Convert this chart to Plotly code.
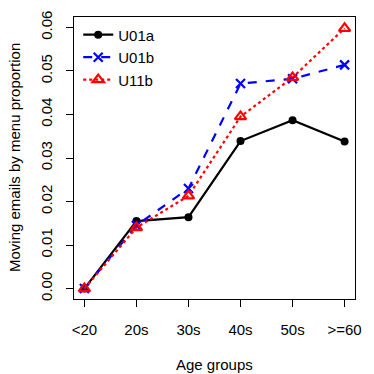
import plotly.graph_objects as go

categories = ["<20", "20s", "30s", "40s", "50s", ">=60"]
u01a = [0.0, 0.0155, 0.0164, 0.0339, 0.0387, 0.0338]
u01b = [0.0, 0.0145, 0.0230, 0.0471, 0.0482, 0.0514]
u11b = [0.0, 0.0140, 0.0213, 0.0395, 0.0485, 0.0598]
y_ticks = [0.0, 0.01, 0.02, 0.03, 0.04, 0.05, 0.06]

xpos = list(range(1, len(categories) + 1))
FONT = "Liberation Sans, Arial, Helvetica, sans-serif"

fig = go.Figure()
fig.add_trace(go.Scatter(x=xpos, y=u01a, name="U01a", mode="lines+markers",
                         line=dict(color="black", width=2.2),
                         marker=dict(symbol="circle", size=8, color="black")))
fig.add_trace(go.Scatter(x=xpos, y=u01b, name="U01b", mode="lines+markers",
                         line=dict(color="blue", width=2.2, dash="dash"),
                         marker=dict(symbol="x-thin-open", size=9, color="blue",
                                     line=dict(color="blue", width=2.2))))
fig.add_trace(go.Scatter(x=xpos, y=u11b, name="U11b", mode="lines+markers",
                         line=dict(color="red", width=2.2, dash="dot"),
                         marker=dict(symbol="triangle-up-open", size=10, color="red",
                                     line=dict(color="red", width=2.2))))

fig.update_layout(
    width=374, height=374,
    margin=dict(l=74, r=19, t=17, b=75),
    paper_bgcolor="white", plot_bgcolor="white",
    font=dict(family=FONT, size=15, color="black"),
    showlegend=True,
    legend=dict(x=0.015, y=0.995, xanchor="left", yanchor="top",
                bgcolor="rgba(0,0,0,0)", borderwidth=0,
                font=dict(size=15), tracegroupgap=0),
    xaxis=dict(range=[0.8, 6.2], tickmode="array", tickvals=xpos, ticktext=categories,
               showline=True, linecolor="black", linewidth=1.3, mirror=True,
               ticks="outside", ticklen=7, tickwidth=1.3, tickcolor="black",
               showgrid=False, zeroline=False, ticklabelstandoff=10),
    yaxis=dict(range=[-0.0024, 0.0624], tickmode="array", tickvals=y_ticks,
               ticktext=[f"{v:.2f}" for v in y_ticks], tickangle=-90,
               showline=True, linecolor="black", linewidth=1.3, mirror=True,
               ticks="outside", ticklen=7, tickwidth=1.3, tickcolor="black",
               showgrid=False, zeroline=False, ticklabelstandoff=8),
    annotations=[
        dict(text="Age groups", xref="paper", yref="paper", x=0.5, y=-0.234,
             xanchor="center", yanchor="middle", showarrow=False, font=dict(size=15)),
        dict(text="Moving emails by menu proportion", xref="paper", yref="paper",
             x=-0.2135, y=0.5, xanchor="center", yanchor="middle", textangle=-90,
             showarrow=False, font=dict(size=15)),
    ],
)

fig.write_html("out.html", config={"displayModeBar": False},
               post_script="document.body.style.margin='0';document.body.style.overflow='hidden';")
